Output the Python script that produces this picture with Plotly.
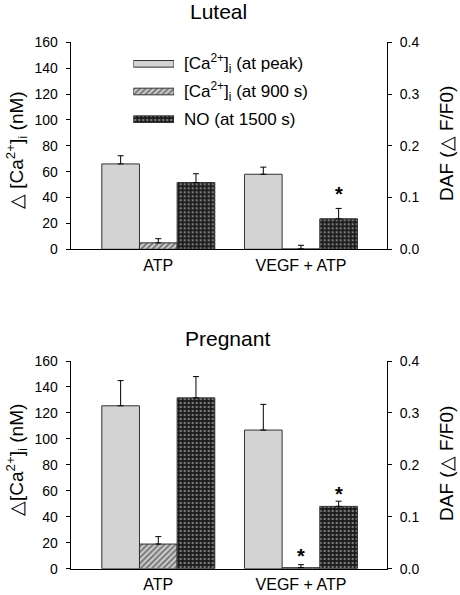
import plotly.graph_objects as go

W, H = 460, 595
FONT = "Liberation Sans, Arial, sans-serif"

# ---------------- data ----------------
groups = ["ATP", "VEGF + ATP"]
group_pos = [0, 1]

luteal_ca_peak = [66.0, 58.0]
luteal_ca_peak_err = [6.3, 5.5]
luteal_ca_900 = [5.0, 0.3]
luteal_ca_900_err = [3.2, 2.8]
luteal_no = [0.129, 0.059]
luteal_no_err = [0.017, 0.020]

preg_ca_peak = [125.5, 106.8]
preg_ca_peak_err = [19.4, 19.8]
preg_ca_900 = [19.0, 0.8]
preg_ca_900_err = [5.7, 2.3]
preg_no = [0.329, 0.120]
preg_no_err = [0.041, 0.010]

legend_labels = [
    "[Ca<sup>2+</sup>]<sub>i</sub> (at peak)",
    "[Ca<sup>2+</sup>]<sub>i</sub> (at 900 s)",
    "NO (at 1500 s)",
]
ca_ticks = [0, 20, 40, 60, 80, 100, 120, 140, 160]
daf_ticks = [0.0, 0.1, 0.2, 0.3, 0.4]

# ---------------- styles ----------------
BW = 0.264
OUT = dict(color="#333333", width=1)
style_peak = dict(color="#d3d3d3", line=OUT)
style_900 = dict(color="#d3d3d3", line=OUT,
                 pattern=dict(shape="/", bgcolor="#d0d0d0", fgcolor="#1e1e1e",
                              size=4, solidity=0.5))
style_no = dict(color="#1e1e1e", line=OUT,
                pattern=dict(shape=".", bgcolor="#1a1a1a", fgcolor="#d8d8d8",
                             size=4, solidity=0.3))


def err(arr):
    return dict(type="data", array=arr, arrayminus=[0] * len(arr), symmetric=False,
                color="black", thickness=1, width=3)


fig = go.Figure()


def add_panel(xa, ya, ya2, peak, peak_e, c900, c900_e, no, no_e):
    fig.add_trace(go.Bar(x=group_pos, y=peak, width=BW, offset=-1.5 * BW, marker=style_peak,
                         error_y=err(peak_e), xaxis=xa, yaxis=ya, showlegend=False))
    fig.add_trace(go.Bar(x=group_pos, y=c900, width=BW, offset=-0.5 * BW, marker=style_900,
                         error_y=err(c900_e), xaxis=xa, yaxis=ya, showlegend=False))
    fig.add_trace(go.Bar(x=group_pos, y=no, width=BW, offset=0.5 * BW, marker=style_no,
                         error_y=err(no_e), xaxis=xa, yaxis=ya2, showlegend=False))


add_panel("x", "y", "y2", luteal_ca_peak, luteal_ca_peak_err, luteal_ca_900, luteal_ca_900_err,
          luteal_no, luteal_no_err)
add_panel("x2", "y3", "y4", preg_ca_peak, preg_ca_peak_err, preg_ca_900, preg_ca_900_err,
          preg_no, preg_no_err)

# legend swatches as horizontal bars on a hidden axis pair
for i, st in enumerate([style_peak, style_900, style_no]):
    fig.add_trace(go.Bar(x=[1], y=[i], orientation="h", width=0.24, marker=st,
                         xaxis="x3", yaxis="y5", showlegend=False, hoverinfo="skip"))

XR = [-0.614, 1.603]
XD = [70.7 / W, 387 / W]
D1 = [1 - 249.3 / H, 1 - 42.3 / H]
D2 = [1 - 568.7 / H, 1 - 361 / H]

tickfont = dict(family=FONT, size=14, color="black")
xcommon = dict(range=XR, tickvals=group_pos, ticktext=groups, showline=True, linecolor="black",
               linewidth=1, ticks="", tickfont=dict(family=FONT, size=16, color="black"),
               showgrid=False, zeroline=False,
               automargin=False, ticklabelstandoff=1, fixedrange=True)
ycommon = dict(showline=True, linecolor="black", linewidth=1, ticks="outside", ticklen=4,
               tickcolor="black", tickfont=tickfont, showgrid=False, zeroline=False,
               automargin=False, ticklabelstandoff=5, fixedrange=True)

fig.update_layout(
    width=W, height=H, margin=dict(l=0, r=0, t=0, b=0),
    paper_bgcolor="white", plot_bgcolor="white", barmode="overlay",
    font=dict(family=FONT, color="black"),
    xaxis=dict(domain=XD, anchor="y", **xcommon),
    xaxis2=dict(domain=XD, anchor="y3", **xcommon),
    yaxis=dict(domain=D1, anchor="x", range=[0, 160], tickvals=ca_ticks, **ycommon),
    yaxis2=dict(overlaying="y", side="right", anchor="x", range=[0, 0.4], tickvals=daf_ticks,
                tickformat=".1f", **ycommon),
    yaxis3=dict(domain=D2, anchor="x2", range=[0, 160], tickvals=ca_ticks, **ycommon),
    yaxis4=dict(overlaying="y3", side="right", anchor="x2", range=[0, 0.4], tickvals=daf_ticks,
                tickformat=".1f", **ycommon),
    xaxis3=dict(domain=[133.3 / W, 174 / W], range=[0, 1], visible=False, anchor="y5",
                fixedrange=True),
    yaxis5=dict(domain=[1 - 133 / H, 1 - 50 / H], range=[2.5, -0.5], visible=False, anchor="x3",
                fixedrange=True),
)

C = dict(xanchor="center", yanchor="middle", showarrow=False)
ann = []
# titles
ann.append(dict(text="Luteal", x=218 / W, y=1 - 11 / H, xref="paper", yref="paper",
                font=dict(size=21), **C))
ann.append(dict(text="Pregnant", x=227 / W, y=1 - 338 / H, xref="paper", yref="paper",
                font=dict(size=21), **C))
# axis titles
ann.append(dict(text="\u25b3 [Ca<sup>2+</sup>]<sub>i</sub> (nM)", x=16 / W, y=1 - 150 / H,
                xref="paper", yref="paper", textangle=-90, font=dict(size=19), **C))
ann.append(dict(text="DAF (\u25b3 F/F0)", x=446 / W, y=1 - 144 / H,
                xref="paper", yref="paper", textangle=-90, font=dict(size=19), **C))
ann.append(dict(text="\u25b3[Ca<sup>2+</sup>]<sub>i</sub> (nM)", x=16 / W, y=1 - 460 / H,
                xref="paper", yref="paper", textangle=-90, font=dict(size=19), **C))
ann.append(dict(text="DAF (\u25b3 F/F0)", x=446 / W, y=1 - 464 / H,
                xref="paper", yref="paper", textangle=-90, font=dict(size=19), **C))
# legend labels
for i, lab in enumerate(legend_labels):
    ann.append(dict(text=lab, x=182 / W, y=i, xref="paper", yref="y5", xanchor="left",
                    yanchor="middle", showarrow=False, font=dict(size=17)))
# significance stars
star = dict(text="<b>*</b>", showarrow=False, xanchor="center", yanchor="bottom",
            font=dict(size=20))
ann.append(dict(x=1 + BW, y=luteal_no[1] + luteal_no_err[1], xref="x", yref="y2", yshift=1, **star))
ann.append(dict(x=1, y=preg_ca_900[1] + preg_ca_900_err[1], xref="x2", yref="y3", yshift=-4, **star))
ann.append(dict(x=1 + BW, y=preg_no[1] + preg_no_err[1], xref="x2", yref="y4", yshift=-6, **star))
fig.update_layout(annotations=ann)

fig.write_html("out.html", config={"displayModeBar": False, "staticPlot": True},
               post_script="document.body.style.margin='0';document.body.style.padding='0';")
